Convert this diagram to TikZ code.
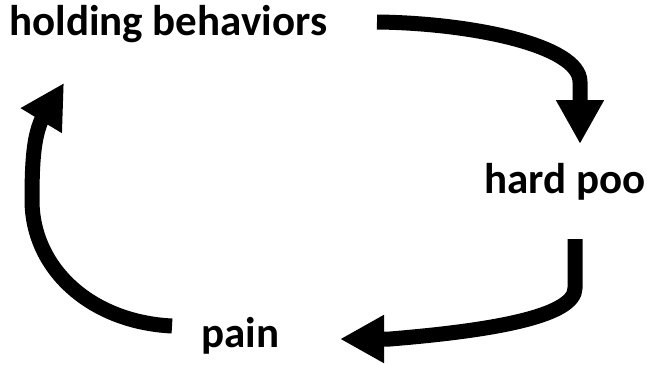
\documentclass[tikz,border=0pt]{standalone}
\usepackage{fontspec}
\setmainfont{Carlito}
\usetikzlibrary{arrows.meta}
\begin{document}
\begin{tikzpicture}[x=1pt,y=-1pt,
  lbl/.style={anchor=base west,inner sep=0pt,font=\fontsize{43}{51}\selectfont\bfseries},
  cyc/.style={line width=15pt,-{Triangle[width=45pt,length=44pt]}}]
\useasboundingbox (0,0) rectangle (647,364);
\node[lbl] (hold) at (9,35) {holding behaviors};
\node[lbl] (hard) at (484,193) {hard poo};
\node[lbl] (pain) at (201,347) {pain};
\coordinate (a1s) at (377,22);
\coordinate (a1e) at (580,144);
\coordinate (a2s) at (575,239);
\coordinate (a2e) at (340,339);
\coordinate (a3s) at (172,326);
\coordinate (a3e) at (64,83);
\draw[cyc] (a1s) .. controls (470,23) and (580,45) .. (580,82) -- (a1e);
\draw[cyc] (a2s) -- (575,288) .. controls (575,315) and (500,330) .. (390,339) -- (a2e);
\draw[cyc] (a3s) .. controls (90,322) and (32,268) .. (32,200) .. controls (32,160) and (34,138) .. (41,121) -- (a3e);
\end{tikzpicture}
\end{document}
